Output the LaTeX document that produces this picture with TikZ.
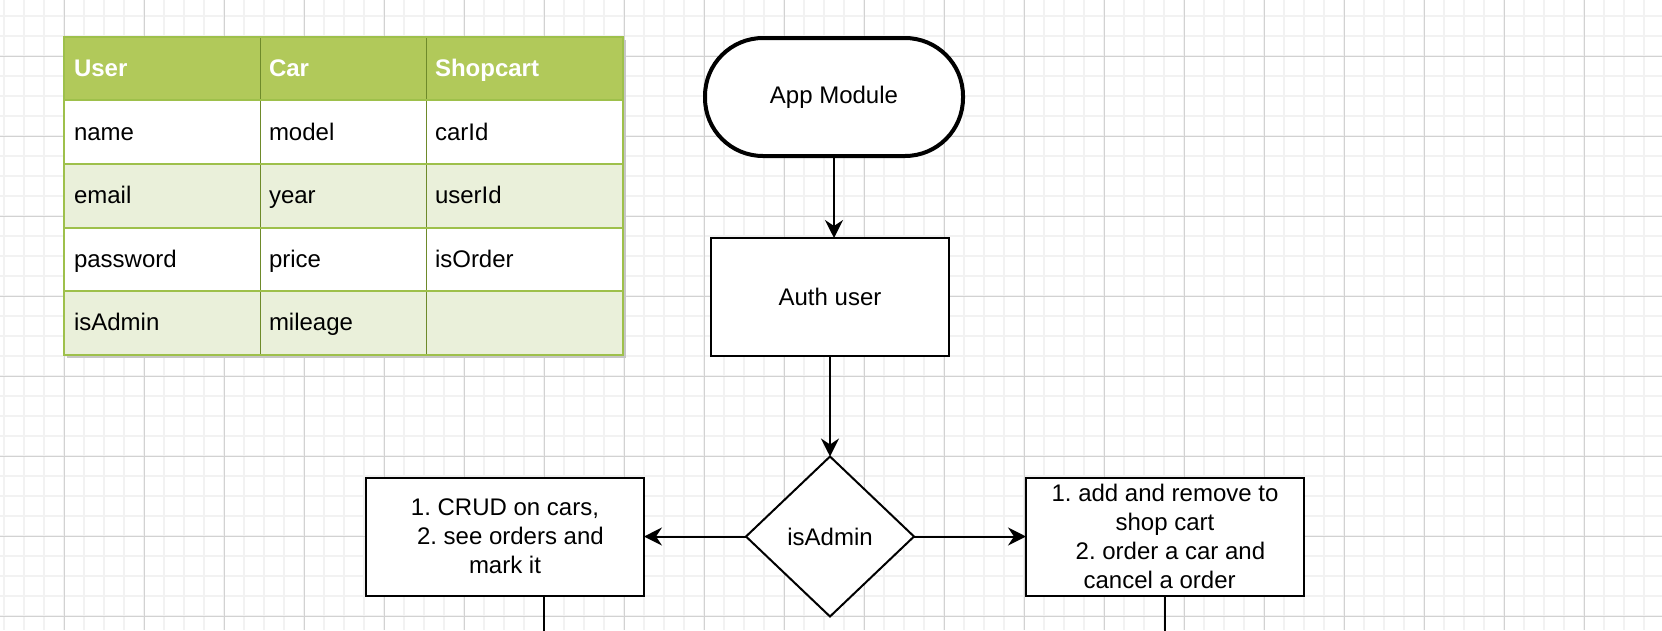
\documentclass[tikz,border=0pt]{standalone}
\usepackage{fontspec}
\setmainfont{Liberation Sans}
\usetikzlibrary{arrows.meta,shapes.geometric}
\definecolor{gridminor}{HTML}{F2F2F2}
\definecolor{gridmajor}{HTML}{D2D2D2}
\definecolor{hdrfill}{HTML}{B1C95A}
\definecolor{rowalt}{HTML}{EAF0DA}
\definecolor{rowline}{HTML}{9EC04B}
\definecolor{colline}{HTML}{6E8A2A}
\definecolor{shadowgray}{HTML}{C6C6C6}
\frenchspacing
\begin{document}
\begin{tikzpicture}[x=1pt,y=-1pt,
  every node/.style={font=\fontsize{24}{28.8}\selectfont, inner sep=0pt, outer sep=0pt},
  flowbox/.style={draw=black, line width=2pt, fill=white, align=center, text=black},
  arr/.style={line width=2pt, -{Stealth[length=18pt,width=18pt,inset=6pt]}},
  conn/.style={line width=2pt},
  celltext/.style={anchor=base west, text=black},
  hdrtext/.style={anchor=base west, text=white, font=\fontsize{24}{28.8}\selectfont\bfseries},
  minorline/.style={gridminor, line width=2pt},
  majorline/.style={gridmajor, line width=1pt},
]
\useasboundingbox (0,0) rectangle (1662,630);
\clip (0,0) rectangle (1662,630);
\fill[white] (0,0) rectangle (1662,630);
% grid
\foreach \x in {4.3,24.3,...,1662} \draw[minorline] (\x,0) -- (\x,630);
\foreach \y in {16,36,...,630} \draw[minorline] (0,\y) -- (1662,\y);
\foreach \x in {64.3,144.3,...,1662} \draw[majorline] (\x,0) -- (\x,630);
\foreach \y in {56,136,...,630} \draw[majorline] (0,\y) -- (1662,\y);
% table
\fill[shadowgray] (67,39.7) rectangle (625.5,357.7);
\fill[hdrfill] (64,36.7) rectangle (622.5,100.3);
\fill[white] (64,100.3) rectangle (622.5,163.9);
\fill[rowalt] (64,163.9) rectangle (622.5,227.5);
\fill[white] (64,227.5) rectangle (622.5,291.1);
\fill[rowalt] (64,291.1) rectangle (622.5,354.7);
\draw[colline, line width=1pt] (260,36.7) -- (260,354.7) (426,36.7) -- (426,354.7);
\draw[rowline, line width=2pt] (64,100.3) -- (622.5,100.3) (64,163.9) -- (622.5,163.9)
  (64,227.5) -- (622.5,227.5) (64,291.1) -- (622.5,291.1);
\draw[rowline, line width=2pt] (64,36.7) rectangle (622.5,354.7);
\node[hdrtext] (hUser) at (74,76.5) {User};
\node[hdrtext] (hCar) at (269,76.5) {Car};
\node[hdrtext] (hShop) at (435,76.5) {Shopcart};
\node[celltext] (uName) at (74,140.1) {name};
\node[celltext] (cModel) at (269,140.1) {model};
\node[celltext] (sCar) at (435,140.1) {carId};
\node[celltext] (uEmail) at (74,203.7) {email};
\node[celltext] (cYear) at (269,203.7) {year};
\node[celltext] (sUser) at (435,203.7) {userId};
\node[celltext] (uPass) at (74,267.3) {password};
\node[celltext] (cPrice) at (269,267.3) {price};
\node[celltext] (sOrder) at (435,267.3) {isOrder};
\node[celltext] (uAdmin) at (74,330.9) {isAdmin};
\node[celltext] (cMileage) at (269,330.9) {mileage};
% flow
\node[flowbox, line width=4pt, rounded corners=58pt, minimum width=258pt, minimum height=118pt] (app) at (834,97) {App Module};
\node[flowbox, minimum width=238pt, minimum height=118pt] (auth) at (830,297) {Auth user};
\node[flowbox, shape=diamond, minimum width=168pt, minimum height=160pt] (isadmin) at (830,536.5) {isAdmin};
\node[flowbox, minimum width=278pt, minimum height=118pt] (admin) at (505,536.5)
  {1. CRUD on cars,\\\hspace*{0.45em}2. see orders and\\mark it};
\node[flowbox, minimum width=278pt, minimum height=118pt] (user) at (1165,536.5)
  {1. add and remove to\\shop cart\\\hspace*{0.45em}2. order a car and\\cancel a order\kern0.45em};
\coordinate (adminDown) at (544,640);
\coordinate (userDown) at (1165,640);
\draw[arr] (app.south) -- (app.south |- auth.north);
\draw[arr] (auth.south) -- (isadmin.north);
\draw[arr] (isadmin.west) -- (admin.east);
\draw[arr] (isadmin.east) -- (user.west);
\draw[conn] (admin.south -| adminDown) -- (adminDown);
\draw[conn] (user.south) -- (userDown);
\end{tikzpicture}
\end{document}
